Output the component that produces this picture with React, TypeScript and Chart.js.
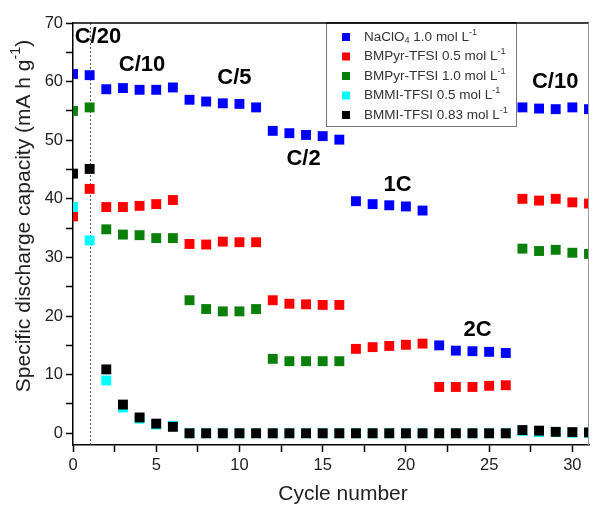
import React, { useEffect, useRef } from "react";
import { Chart, registerables } from "chart.js";

Chart.register(...registerables);

// ---------- data ----------
const cycles = [0, 1, 2, 3, 4, 5, 6, 7, 8, 9, 10, 11, 12, 13, 14, 15, 16, 17, 18, 19, 20, 21, 22, 23, 24, 25, 26, 27, 28, 29, 30, 31];

const naclo4_10 = [61.3, 61.1, 58.7, 58.9, 58.6, 58.6, 59.0, 56.9, 56.6, 56.3, 56.2, 55.6, 51.6, 51.2, 50.9, 50.7, 50.1, 39.6, 39.1, 38.9, 38.7, 38.0, 15.0, 14.1, 14.0, 13.9, 13.7, 55.6, 55.4, 55.3, 55.6, 55.3];
const bmpyr_05 = [37.0, 41.7, 38.6, 38.6, 38.8, 39.1, 39.8, 32.3, 32.2, 32.7, 32.6, 32.6, 22.7, 22.1, 22.0, 21.9, 21.9, 14.4, 14.7, 14.9, 15.1, 15.3, 7.9, 7.9, 7.9, 8.1, 8.2, 40.0, 39.7, 40.0, 39.4, 39.2];
const bmpyr_10 = [55.0, 55.6, 34.8, 33.9, 33.8, 33.3, 33.3, 22.7, 21.2, 20.8, 20.8, 21.2, 12.7, 12.3, 12.3, 12.3, 12.3, null, null, null, null, null, null, null, null, null, null, 31.5, 31.1, 31.3, 30.8, 30.6];
const bmmi_05 = [38.6, 32.9, 9.0, 4.4, 2.5, 1.5, 1.3, 0, 0, 0, 0, 0, 0, 0, 0, 0, 0, 0, 0, 0, 0, 0, 0, 0, 0, 0, 0, 0.4, 0.2, 0.2, 0.1, 0.1];
const bmmi_083 = [44.3, 45.1, 10.9, 4.9, 2.7, 1.65, 1.1, 0, 0, 0, 0, 0, 0, 0, 0, 0, 0, 0, 0, 0, 0, 0, 0, 0, 0, 0, 0, 0.55, 0.45, 0.25, 0.2, 0.15];

const seriesLabels = [
  "NaClO₄ 1.0 mol L⁻¹",
  "BMPyr-TFSI 0.5 mol L⁻¹",
  "BMPyr-TFSI 1.0 mol L⁻¹",
  "BMMI-TFSI 0.5 mol L⁻¹",
  "BMMI-TFSI 0.83 mol L⁻¹",
];
const seriesColors = ["#0000ff", "#ff0000", "#0a800a", "#00ffff", "#000000"];

// C-rate annotations (label, cycle, capacity)
const rateLabels = ["C/20", "C/10", "C/5", "C/2", "1C", "2C", "C/10"];
const rateX = [1.5, 4.15, 9.7, 13.85, 19.5, 24.3, 28.97];
const rateY = [67.6, 62.8, 60.6, 46.8, 42.3, 17.6, 60.0];

const markerCycle = 1; // dotted vertical line

const xTitle = "Cycle number";
const yTitle = "Specific discharge capacity (mA h g⁻¹)";

const FONT = 'Arial, "Liberation Sans", Helvetica, sans-serif';

// ---------- rich text (sub/superscripts) ----------
const SUB: Record<string, string> = { "₀": "0", "₁": "1", "₂": "2", "₃": "3", "₄": "4", "₅": "5", "₆": "6", "₇": "7", "₈": "8", "₉": "9" };
const SUP: Record<string, string> = { "⁻": "-", "¹": "1", "²": "2", "³": "3" };

type Run = { t: string; k: "n" | "sub" | "sup" };
function toRuns(text: string): Run[] {
  const runs: Run[] = [];
  for (const ch of text) {
    let k: Run["k"] = "n";
    let c = ch;
    if (SUB[ch]) { k = "sub"; c = SUB[ch]; }
    else if (SUP[ch]) { k = "sup"; c = SUP[ch]; }
    const last = runs[runs.length - 1];
    if (last && last.k === k) last.t += c;
    else runs.push({ t: c, k });
  }
  return runs;
}

function drawRich(ctx: CanvasRenderingContext2D, text: string, x: number, y: number, size: number, weight: string, color: string, align: "left" | "center") {
  const runs = toRuns(text);
  const small = size * 0.68;
  let total = 0;
  const widths: number[] = [];
  for (const r of runs) {
    ctx.font = `${weight} ${r.k === "n" ? size : small}px ${FONT}`;
    const w = ctx.measureText(r.t).width;
    widths.push(w);
    total += w;
  }
  let cx = align === "center" ? x - total / 2 : x;
  ctx.fillStyle = color;
  ctx.textBaseline = "middle";
  ctx.textAlign = "left";
  runs.forEach((r, i) => {
    ctx.font = `${weight} ${r.k === "n" ? size : small}px ${FONT}`;
    let dy = 0;
    if (r.k === "sub") dy = size * 0.28;
    if (r.k === "sup") dy = -size * 0.36;
    ctx.fillText(r.t, cx, y + dy);
    cx += widths[i];
  });
}

const decorPlugin = {
  id: "decor",
  beforeDatasetsDraw(chart: any) {
    const { ctx, chartArea: ca, scales } = chart;
    const xp = scales.x.getPixelForValue(markerCycle);
    ctx.save();
    ctx.strokeStyle = "#555";
    ctx.lineWidth = 1;
    ctx.setLineDash([2, 2]);
    ctx.beginPath();
    ctx.moveTo(Math.round(xp) + 0.5, ca.top);
    ctx.lineTo(Math.round(xp) + 0.5, ca.bottom);
    ctx.stroke();
    ctx.restore();
  },
  afterDraw(chart: any) {
    const { ctx, chartArea: ca, scales } = chart;
    ctx.save();
    // top frame and right edge
    ctx.strokeStyle = "#000";
    ctx.lineWidth = 1.5;
    ctx.beginPath();
    ctx.moveTo(ca.left, ca.top);
    ctx.lineTo(ca.right, ca.top);
    ctx.stroke();
    ctx.strokeStyle = "#999";
    ctx.lineWidth = 1;
    ctx.beginPath();
    ctx.moveTo(ca.right - 0.5, ca.top);
    ctx.lineTo(ca.right - 0.5, ca.bottom);
    ctx.stroke();

    // rate annotations
    rateLabels.forEach((lbl, i) => {
      drawRich(ctx, lbl, scales.x.getPixelForValue(rateX[i]), scales.y.getPixelForValue(rateY[i]), 22, "bold", "#000", "center");
    });

    // legend
    const lx = 326, ly = ca.top, lw = 190, lh = 103;
    ctx.fillStyle = "#fff";
    ctx.fillRect(lx, ly, lw, lh);
    ctx.strokeStyle = "#777";
    ctx.lineWidth = 1;
    ctx.strokeRect(lx + 0.5, ly + 0.5, lw, lh);
    ctx.strokeStyle = "#000";
    ctx.lineWidth = 1.5;
    ctx.beginPath();
    ctx.moveTo(lx, ly);
    ctx.lineTo(lx + lw + 1, ly);
    ctx.stroke();
    chart.data.datasets.forEach((ds: any, i: number) => {
      const ry = ly + 14 + i * 19.5;
      ctx.fillStyle = ds.backgroundColor;
      ctx.fillRect(342, ry - 4, 8, 8);
      drawRich(ctx, ds.label, 364, ry, 13.5, "normal", "#333", "left");
    });

    // axis titles
    drawRich(ctx, xTitle, (ca.left + ca.right) / 2 + 12, 494, 21, "normal", "#222", "center");
    ctx.save();
    ctx.translate(24, 216);
    ctx.rotate(-Math.PI / 2);
    drawRich(ctx, yTitle, 0, 0, 21, "normal", "#222", "center");
    ctx.restore();
    ctx.restore();
  },
};

export default function App() {
  const ref = useRef<HTMLCanvasElement | null>(null);
  useEffect(() => {
    if (!ref.current) return;
    const series = [naclo4_10, bmpyr_05, bmpyr_10, bmmi_05, bmmi_083];
    const chart = new Chart(ref.current, {
      type: "scatter",
      data: {
        datasets: series.map((vals, i) => ({
          label: seriesLabels[i],
          data: cycles.map((c, j) => ({ x: c, y: vals[j] })).filter((p) => p.y !== null) as any,
          backgroundColor: seriesColors[i],
          borderColor: seriesColors[i],
          borderWidth: 0,
          pointStyle: "rect",
          pointRadius: 7,
          pointHoverRadius: 7,
          showLine: false,
          clip: 0,
          order: 5 - i,
        })),
      },
      options: {
        responsive: false,
        animation: false,
        events: [],
        layout: { padding: { top: 23, right: 0, left: 0, bottom: 0 } },
        plugins: { legend: { display: false }, tooltip: { enabled: false } },
        scales: {
          x: {
            type: "linear",
            min: 0,
            max: 31,
            afterFit: (s: any) => { s.height = 63; },
            border: { display: true, color: "#000", width: 1.5 },
            grid: { display: true, drawOnChartArea: false, drawTicks: true, tickLength: 7, color: "#000", tickWidth: 1.5 },
            ticks: {
              stepSize: 2.5,
              includeBounds: false,
              autoSkip: false,
              maxRotation: 0,
              padding: 4,
              color: "#222",
              font: { family: FONT, size: 16.5 },
              callback: (v: any) => (Number(v) % 5 === 0 ? String(v) : ""),
            },
          },
          y: {
            type: "linear",
            min: -2,
            max: 70,
            afterFit: (s: any) => { s.width = 73; },
            border: { display: true, color: "#000", width: 1.5 },
            grid: { display: true, drawOnChartArea: false, drawTicks: true, tickLength: 7, color: "#000", tickWidth: 1.5 },
            ticks: {
              stepSize: 5,
              includeBounds: false,
              autoSkip: false,
              padding: 3,
              color: "#222",
              font: { family: FONT, size: 16.5 },
              callback: (v: any) => (Number(v) % 10 === 0 ? String(v) : ""),
            },
          },
        },
      },
      plugins: [decorPlugin],
    });
    return () => chart.destroy();
  }, []);
  return (
    <div style={{ position: "fixed", left: 0, top: 0, width: 596, height: 508, background: "#fff" }}>
      <canvas ref={ref} width={596} height={508} style={{ display: "block" }} />
    </div>
  );
}
